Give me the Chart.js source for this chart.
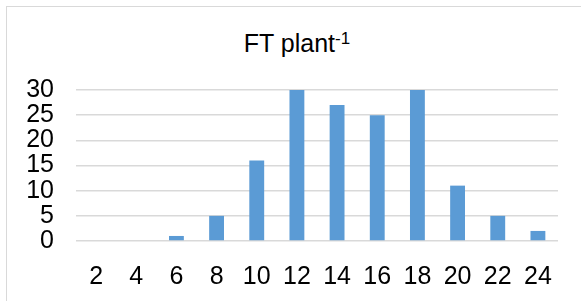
<!DOCTYPE html>
<html lang="en">
<head>
  <meta charset="UTF-8" />
  <title>FT plant-1</title>
  <script src="https://cdn.jsdelivr.net/npm/chart.js"></script>
  <style>
    html, body {
      margin: 0;
      padding: 0;
      background: #fff;
      overflow: hidden;
    }

    .frame {
      position: absolute;
      left: 6px;
      top: 6px;
      width: 600px;
      height: 320px;
      border: 1px solid #d9d9d9;
    }

    .chart-title {
      position: absolute;
      left: 0;
      top: 31px;
      width: 594px;
      text-align: center;
      font-family: "Liberation Sans", Arial, sans-serif;
      font-size: 25px;
      line-height: 24px;
      color: #000;
    }

    .chart-title sup {
      font-size: 17px;
      line-height: 0;
      vertical-align: 0;
      position: relative;
      top: -8px;
    }

    .chart-wrap {
      position: absolute;
      left: 0;
      top: 0;
      width: 581px;
      height: 301px;
    }
  </style>
</head>
<body>

<div class="frame"></div>
<div class="chart-title">FT plant<sup>-1</sup></div>
<div class="chart-wrap">
  <canvas id="ftChart"></canvas>
</div>

<script>
  const categories = ["2", "4", "6", "8", "10", "12", "14", "16", "18", "20", "22", "24"];
  const ftValues = [0, 0, 1, 5, 16, 30, 27, 25, 30, 11, 5, 2];
  const yTicks = [0, 5, 10, 15, 20, 25, 30];

  const labelFont = { family: "'Liberation Sans', Arial, sans-serif", size: 25, lineHeight: 1 };

  new Chart(document.getElementById('ftChart').getContext('2d'), {
    type: 'bar',
    data: {
      labels: categories,
      datasets: [{
        data: ftValues,
        backgroundColor: '#5b9bd5',
        borderWidth: 0,
        barPercentage: 0.37,
        categoryPercentage: 1
      }]
    },
    options: {
      responsive: true,
      maintainAspectRatio: false,
      animation: false,
      layout: { padding: { left: 0, right: 23, top: 90, bottom: 0 } },
      plugins: {
        legend: { display: false },
        tooltip: { enabled: false },
        title: { display: false }
      },
      scales: {
        x: {
          grid: { display: false },
          border: { display: false },
          ticks: {
            color: '#000',
            font: labelFont,
            padding: 16,
            maxRotation: 0,
            autoSkip: false
          },
          afterFit: (scale) => { scale.height = 60; }
        },
        y: {
          min: yTicks[0],
          max: yTicks[yTicks.length - 1],
          grid: { color: '#d9d9d9', lineWidth: 1.5, drawTicks: false },
          border: { display: false },
          ticks: {
            stepSize: 5,
            color: '#000',
            font: labelFont,
            padding: 22,
            autoSkip: false
          },
          afterBuildTicks: (scale) => {
            scale.ticks = yTicks.map(v => ({ value: v }));
          },
          afterFit: (scale) => { scale.width = 76; }
        }
      }
    }
  });
</script>

</body>
</html>
